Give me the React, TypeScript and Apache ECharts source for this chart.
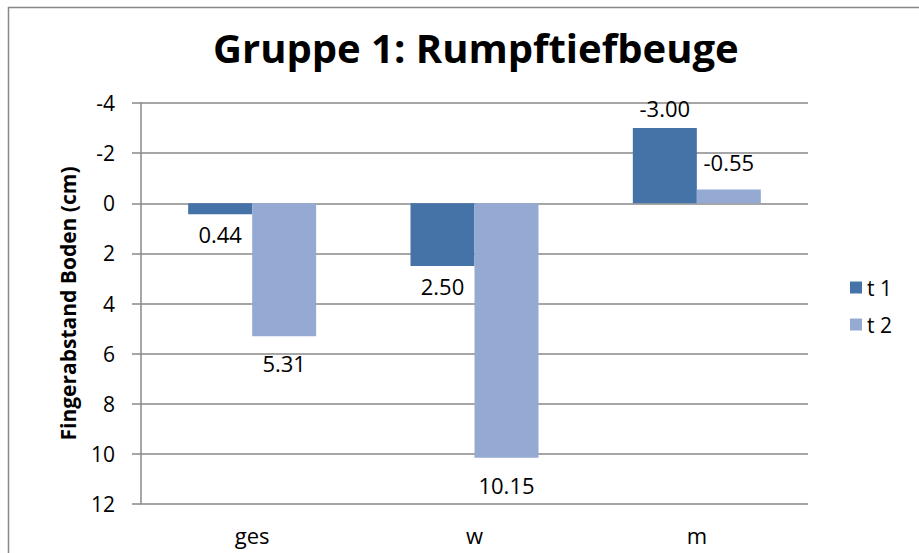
import React, { useEffect, useRef } from "react";
import * as echarts from "echarts";

const categories = ["ges", "w", "m"];
const seriesNames = ["t 1", "t 2"];
const t1Values = [0.44, 2.5, -3.0];
const t2Values = [5.31, 10.15, -0.55];
const colors = ["#4572A7", "#95AAD3"];
const titleText = "Gruppe 1: Rumpftiefbeuge";
const yAxisName = "Fingerabstand Boden (cm)";

const FONT = "'Open Sans', 'Noto Sans', sans-serif";

export default function App() {
  const ref = useRef<HTMLDivElement>(null);
  useEffect(() => {
    if (!ref.current) return;
    const chart = echarts.init(ref.current, null, { renderer: "svg" });
    const mkSeries = (name: string, data: number[], color: string, distance: number) => ({
      name,
      type: "bar",
      data,
      barWidth: 64,
      barGap: "0%",
      itemStyle: { color },
      label: {
        show: true,
        position: "outside",
        distance,
        formatter: (p: any) => Number(p.value).toFixed(2),
        color: "#000",
        fontSize: 22,
        fontFamily: FONT,
      },
    });
    chart.setOption({
      animation: false,
      backgroundColor: "#fff",
      textStyle: { fontFamily: FONT },
      title: {
        text: titleText,
        left: 208,
        top: 22,
        textStyle: { fontSize: 40, fontWeight: "bold", color: "#000", fontFamily: FONT },
      },
      legend: {
        orient: "vertical",
        left: 845,
        top: 272,
        itemWidth: 12,
        itemHeight: 12,
        itemGap: 16,
        icon: "rect",
        textStyle: { fontSize: 21, color: "#000", fontFamily: FONT },
        data: seriesNames,
      },
      grid: { left: 141, right: 111, top: 103, bottom: 49, containLabel: false },
      xAxis: {
        type: "category",
        data: categories,
        axisLine: { show: false },
        axisTick: { show: false },
        axisLabel: { fontSize: 22, color: "#000", margin: 20, fontFamily: FONT },
      },
      yAxis: {
        type: "value",
        inverse: true,
        min: -4,
        max: 12,
        interval: 2,
        name: yAxisName,
        nameLocation: "middle",
        nameGap: 63,
        nameTextStyle: { fontSize: 21, fontWeight: "bold", color: "#000", fontFamily: FONT },
        axisLine: { show: true, lineStyle: { color: "#888", width: 1.5 } },
        axisTick: { show: true, length: 9, lineStyle: { color: "#888", width: 1.5 } },
        axisLabel: { fontSize: 21, color: "#000", margin: 26, fontFamily: FONT },
        splitLine: { show: true, lineStyle: { color: "#888", width: 1.5 } },
      },
      graphic: [
        {
          type: "rect",
          silent: true,
          z: -10,
          shape: { x: 8.5, y: 7.5, width: 1000, height: 1000 },
          style: { fill: "none", stroke: "#888", lineWidth: 1.5 },
        },
      ],
      series: [
        mkSeries(seriesNames[0], t1Values, colors[0], 9),
        mkSeries(seriesNames[1], t2Values, colors[1], 16),
      ],
    });
    return () => chart.dispose();
  }, []);
  return (
    <div
      ref={ref}
      style={{ position: "fixed", left: 0, top: 0, width: 919, height: 553 }}
    />
  );
}
